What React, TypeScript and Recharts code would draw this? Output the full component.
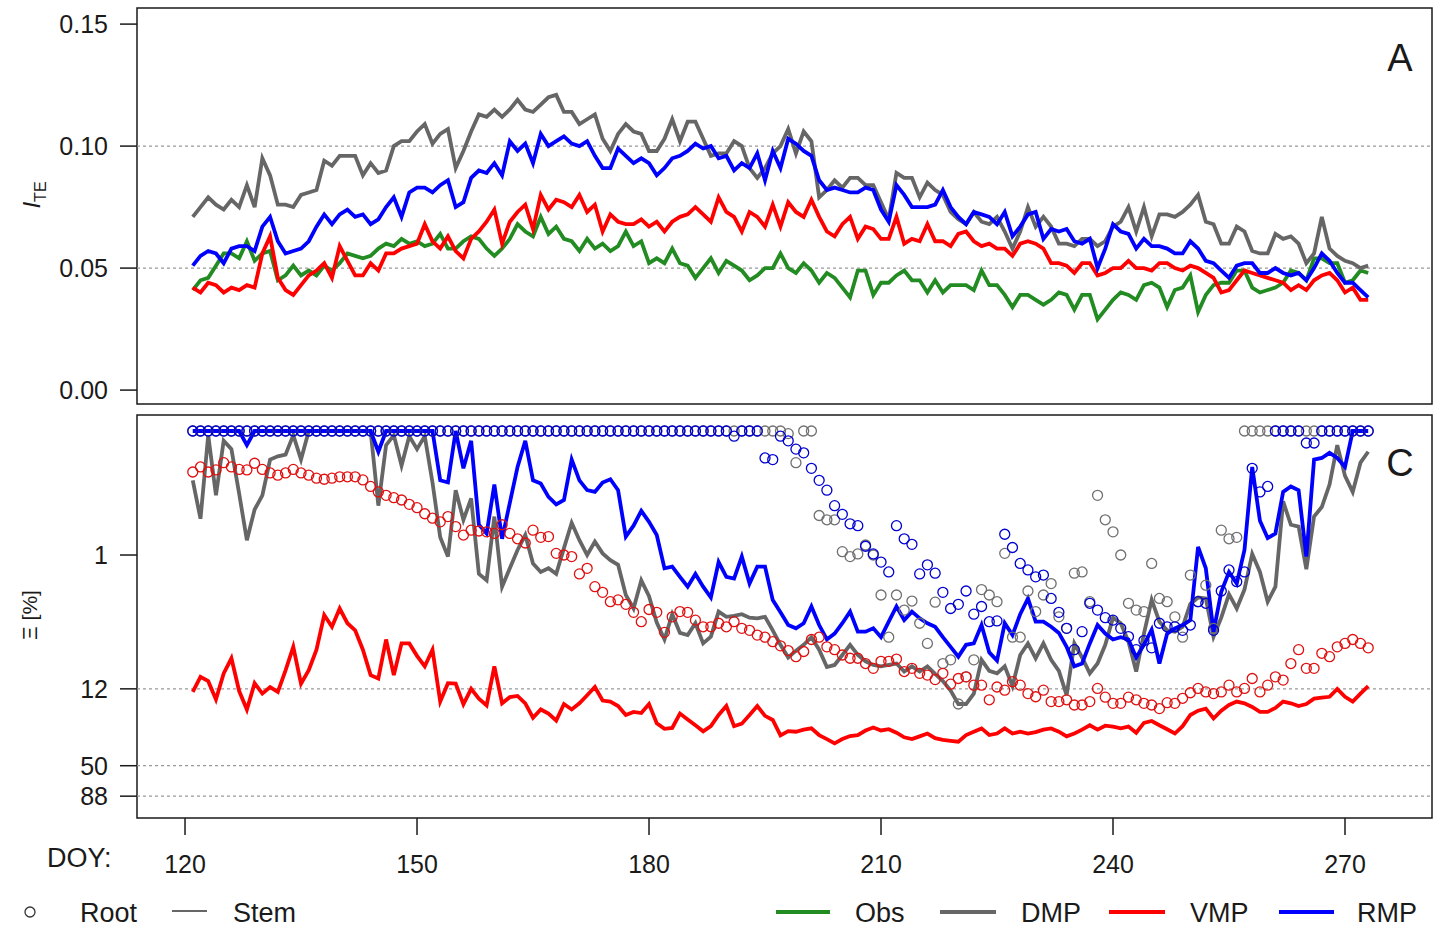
import React from "react";
import { ComposedChart, Line, XAxis, YAxis, ReferenceLine, ReferenceArea } from "recharts";

const FIRST_DOY = 121;
const X_TICKS = [120, 150, 180, 210, 240, 270];
const TOP_TICKS = [0, 0.05, 0.1, 0.15];
const BOTTOM_TICKS = [1, 12, 50, 88];
const TOP_GRID = [0.05, 0.1];
const BOTTOM_GRID = [12, 50, 88];

// panel A: I_TE
const OBS = [
  0.041, 0.045, 0.046, 0.051, 0.056, 0.056, 0.054, 0.061, 0.053, 0.056,
  0.057, 0.045, 0.047, 0.051, 0.047, 0.049, 0.047, 0.051, 0.049, 0.052,
  0.056, 0.055, 0.054, 0.055, 0.058, 0.060, 0.059, 0.062, 0.060, 0.061,
  0.059, 0.060, 0.064, 0.058, 0.058, 0.061, 0.063, 0.062, 0.058, 0.055,
  0.058, 0.062, 0.068, 0.065, 0.063, 0.071, 0.064, 0.067, 0.062, 0.061,
  0.057, 0.062, 0.058, 0.060, 0.057, 0.059, 0.065, 0.059, 0.061, 0.052,
  0.054, 0.052, 0.058, 0.052, 0.051, 0.046, 0.050, 0.054, 0.048, 0.053,
  0.051, 0.049, 0.045, 0.047, 0.050, 0.050, 0.056, 0.050, 0.048, 0.052,
  0.049, 0.044, 0.048, 0.046, 0.042, 0.038, 0.049, 0.049, 0.039, 0.044,
  0.044, 0.047, 0.049, 0.045, 0.045, 0.040, 0.045, 0.040, 0.043, 0.043,
  0.043, 0.041, 0.049, 0.043, 0.043, 0.039, 0.034, 0.039, 0.039, 0.037,
  0.035, 0.037, 0.040, 0.039, 0.033, 0.039, 0.039, 0.029, 0.033, 0.037,
  0.040, 0.039, 0.037, 0.043, 0.044, 0.042, 0.034, 0.041, 0.042, 0.047,
  0.032, 0.039, 0.043, 0.044, 0.044, 0.049, 0.049, 0.042, 0.040, 0.041,
  0.042, 0.044, 0.049, 0.048, 0.045, 0.054, 0.054, 0.052, 0.052, 0.044,
  0.045, 0.049, 0.048,
];

const DMP_TE = [
  0.071, 0.075, 0.079, 0.076, 0.074, 0.078, 0.075, 0.084, 0.075, 0.095,
  0.088, 0.076, 0.076, 0.075, 0.080, 0.081, 0.082, 0.094, 0.092, 0.096,
  0.096, 0.096, 0.088, 0.093, 0.089, 0.090, 0.100, 0.102, 0.102, 0.106,
  0.109, 0.101, 0.105, 0.107, 0.091, 0.098, 0.106, 0.113, 0.112, 0.115,
  0.112, 0.115, 0.119, 0.115, 0.114, 0.117, 0.120, 0.121, 0.114, 0.114,
  0.109, 0.111, 0.113, 0.103, 0.098, 0.105, 0.109, 0.106, 0.105, 0.098,
  0.098, 0.103, 0.111, 0.102, 0.110, 0.110, 0.103, 0.096, 0.097, 0.097,
  0.102, 0.100, 0.091, 0.087, 0.091, 0.097, 0.100, 0.107, 0.097, 0.106,
  0.102, 0.079, 0.082, 0.086, 0.083, 0.087, 0.087, 0.084, 0.084, 0.077,
  0.070, 0.089, 0.087, 0.087, 0.079, 0.085, 0.082, 0.080, 0.073, 0.070,
  0.068, 0.073, 0.069, 0.068, 0.071, 0.065, 0.058, 0.065, 0.075, 0.067,
  0.071, 0.067, 0.060, 0.060, 0.059, 0.062, 0.062, 0.059, 0.061, 0.067,
  0.069, 0.075, 0.065, 0.075, 0.063, 0.072, 0.072, 0.071, 0.073, 0.076,
  0.080, 0.069, 0.068, 0.060, 0.060, 0.067, 0.065, 0.057, 0.056, 0.056,
  0.064, 0.062, 0.063, 0.060, 0.052, 0.056, 0.071, 0.058, 0.055, 0.053,
  0.052, 0.050, 0.051,
];

const VMP_TE = [
  0.042, 0.040, 0.044, 0.043, 0.040, 0.042, 0.041, 0.043, 0.042, 0.056,
  0.063, 0.046, 0.041, 0.039, 0.043, 0.047, 0.049, 0.052, 0.046, 0.059,
  0.053, 0.047, 0.047, 0.052, 0.049, 0.056, 0.056, 0.058, 0.059, 0.060,
  0.068, 0.061, 0.058, 0.063, 0.057, 0.054, 0.062, 0.065, 0.069, 0.074,
  0.060, 0.069, 0.073, 0.076, 0.066, 0.080, 0.074, 0.078, 0.077, 0.075,
  0.080, 0.073, 0.076, 0.065, 0.072, 0.069, 0.068, 0.068, 0.070, 0.067,
  0.069, 0.065, 0.069, 0.071, 0.072, 0.075, 0.072, 0.069, 0.079, 0.073,
  0.071, 0.065, 0.073, 0.071, 0.067, 0.076, 0.067, 0.077, 0.073, 0.071,
  0.078, 0.071, 0.065, 0.063, 0.068, 0.071, 0.062, 0.067, 0.066, 0.062,
  0.062, 0.071, 0.060, 0.062, 0.061, 0.068, 0.061, 0.061, 0.059, 0.064,
  0.065, 0.061, 0.059, 0.060, 0.058, 0.058, 0.055, 0.060, 0.061, 0.060,
  0.058, 0.052, 0.052, 0.051, 0.048, 0.052, 0.052, 0.047, 0.048, 0.050,
  0.050, 0.053, 0.050, 0.050, 0.049, 0.052, 0.052, 0.050, 0.049, 0.051,
  0.050, 0.048, 0.046, 0.040, 0.041, 0.045, 0.049, 0.048, 0.047, 0.046,
  0.045, 0.044, 0.041, 0.043, 0.041, 0.045, 0.047, 0.048, 0.045, 0.040,
  0.042, 0.037, 0.037,
];

const RMP_TE = [
  0.051, 0.055, 0.057, 0.056, 0.052, 0.058, 0.059, 0.059, 0.057, 0.067,
  0.071, 0.061, 0.056, 0.057, 0.058, 0.061, 0.067, 0.072, 0.068, 0.072,
  0.074, 0.071, 0.072, 0.068, 0.070, 0.075, 0.079, 0.071, 0.081, 0.083,
  0.083, 0.081, 0.084, 0.086, 0.075, 0.077, 0.087, 0.090, 0.089, 0.093,
  0.088, 0.102, 0.098, 0.101, 0.093, 0.105, 0.100, 0.102, 0.104, 0.101,
  0.100, 0.102, 0.096, 0.091, 0.091, 0.099, 0.096, 0.093, 0.095, 0.093,
  0.088, 0.091, 0.095, 0.096, 0.098, 0.101, 0.099, 0.100, 0.095, 0.096,
  0.090, 0.093, 0.091, 0.097, 0.086, 0.098, 0.091, 0.103, 0.101, 0.098,
  0.096, 0.086, 0.082, 0.083, 0.082, 0.081, 0.081, 0.083, 0.082, 0.074,
  0.069, 0.084, 0.080, 0.075, 0.075, 0.075, 0.076, 0.082, 0.075, 0.071,
  0.068, 0.073, 0.072, 0.071, 0.068, 0.073, 0.063, 0.067, 0.072, 0.073,
  0.062, 0.066, 0.065, 0.066, 0.061, 0.060, 0.062, 0.050, 0.058, 0.068,
  0.065, 0.064, 0.058, 0.062, 0.059, 0.059, 0.058, 0.056, 0.056, 0.061,
  0.058, 0.053, 0.052, 0.049, 0.046, 0.051, 0.052, 0.052, 0.048, 0.048,
  0.050, 0.048, 0.047, 0.048, 0.045, 0.050, 0.056, 0.053, 0.048, 0.044,
  0.044, 0.041, 0.038,
];

// panel C: Xi [%], stem (lines) and root (circles)
const DMP_STEM = [
  0.25, 0.51, 0.108, 0.33, 0.12, 0.14, 0.32, 0.76, 0.43, 0.33,
  0.17, 0.16, 0.155, 0.108, 0.17, 0.1, 0.1, 0.1, 0.1, 0.1,
  0.1, 0.1, 0.1, 0.1, 0.4, 0.13, 0.108, 0.19, 0.11, 0.14,
  0.11, 0.26, 0.72, 1.03, 0.3, 0.52, 0.35, 1.42, 1.6, 0.49,
  1.8, 1.28, 0.91, 0.69, 1.17, 1.37, 1.28, 1.42, 0.88, 0.55,
  0.76, 1.0, 0.78, 0.97, 1.1, 1.2, 2.1, 2.7, 1.6, 2.15,
  3.5, 4.8, 3.0, 4.25, 4.42, 3.55, 5.16, 4.55, 2.86, 3.15,
  3.1, 3.0, 3.2, 3.24, 3.15, 4.05, 5.3, 6.7, 5.9, 5.3,
  4.6, 5.8, 8.0, 7.7, 6.4, 5.3, 6.4, 7.2, 7.7, 7.9,
  7.7, 7.5, 8.7, 7.9, 8.7, 7.9, 9.1, 10.4, 12.4, 15.9,
  15.9, 13.1, 7.0, 8.6, 9.0, 7.9, 11.4, 6.4, 5.16, 6.8,
  5.16, 7.0, 8.6, 13.5, 5.16, 6.7, 9.0, 7.5, 5.3, 3.2,
  3.55, 5.0, 8.7, 4.3, 2.3, 3.45, 4.05, 4.15, 3.79, 2.48,
  2.2, 2.24, 4.55, 3.2, 2.07, 2.7, 1.9, 0.98, 1.37, 2.38,
  1.8, 0.37, 0.57, 0.59, 1.3, 0.49, 0.41, 0.27, 0.13, 0.23,
  0.31, 0.18, 0.147,
];

const VMP_STEM = [
  12.7, 9.6, 10.4, 14.6, 9.0, 6.8, 12.5, 17.6, 10.8, 13.1,
  11.6, 12.7, 8.5, 5.5, 10.9, 8.5, 5.8, 3.05, 3.79, 2.7,
  3.55, 4.05, 5.8, 9.3, 9.9, 4.8, 9.3, 5.16, 5.16, 6.5,
  7.9, 5.8, 15.2, 10.8, 10.9, 16.0, 12.0, 14.4, 16.3, 7.9,
  15.7, 14.0, 13.7, 15.7, 20.5, 17.6, 19.0, 21.6, 15.9, 17.6,
  15.7, 13.5, 11.6, 14.9, 15.2, 16.5, 19.5, 18.4, 18.8, 15.9,
  22.7, 25.2, 24.8, 19.0, 21.2, 23.6, 26.4, 24.0, 19.5, 16.5,
  24.0, 22.9, 19.5, 16.5, 19.8, 21.4, 28.5, 26.3, 26.6, 25.6,
  25.0, 28.3, 30.5, 33.0, 30.5, 28.8, 28.3, 26.0, 24.6, 26.0,
  25.4, 27.1, 29.5, 30.5, 29.0, 27.5, 30.0, 31.0, 31.5, 32.0,
  28.3, 26.6, 25.0, 28.3, 27.5, 25.0, 27.5, 26.6, 27.5, 26.8,
  25.6, 25.0, 26.6, 29.0, 27.5, 25.6, 23.6, 25.6, 23.8, 24.2,
  25.0, 24.2, 27.1, 22.6, 21.8, 23.6, 25.4, 27.5, 24.0, 19.5,
  18.0, 17.3, 20.8, 18.0, 16.2, 15.2, 15.7, 16.8, 18.4, 18.4,
  17.1, 15.2, 15.7, 16.5, 15.9, 14.4, 14.1, 13.9, 12.0, 13.9,
  15.2, 13.1, 11.4,
];

const RMP_STEM = [
  0.1, 0.1, 0.1, 0.1, 0.1, 0.1, 0.1, 0.13, 0.1, 0.1,
  0.1, 0.1, 0.1, 0.1, 0.1, 0.1, 0.1, 0.1, 0.1, 0.1,
  0.1, 0.1, 0.1, 0.1, 0.147, 0.1, 0.1, 0.1, 0.1, 0.1,
  0.1, 0.1, 0.25, 0.26, 0.1, 0.2, 0.12, 0.57, 0.67, 0.27,
  0.74, 0.38, 0.195, 0.12, 0.25, 0.265, 0.34, 0.39, 0.36, 0.17,
  0.25, 0.3, 0.31, 0.26, 0.245, 0.3, 0.71, 0.58, 0.44, 0.54,
  0.69, 1.28, 1.24, 1.5, 1.8, 1.42, 1.8, 2.2, 1.14, 1.5,
  1.55, 1.03, 1.7, 1.24, 1.24, 2.31, 2.9, 3.67, 3.9, 3.55,
  2.6, 3.67, 4.8, 4.3, 3.55, 2.86, 4.15, 4.15, 3.9, 4.6,
  3.45, 2.6, 3.35, 2.86, 3.24, 3.55, 3.79, 4.6, 5.5, 6.6,
  5.3, 5.16, 3.67, 6.1, 7.1, 3.55, 4.42, 3.0, 2.24, 3.45,
  3.45, 3.79, 4.25, 5.5, 7.9, 7.5, 5.16, 3.67, 4.3, 4.8,
  4.6, 4.8, 6.7, 5.3, 4.0, 7.5, 4.3, 3.9, 3.67, 3.35,
  0.86, 1.28, 4.15, 1.98, 1.37, 1.7, 0.91, 0.195, 0.53, 0.73,
  0.67, 0.31, 0.28, 0.3, 1.03, 0.17, 0.165, 0.15, 0.165, 0.195,
  0.1, 0.1, 0.1,
];

const DMP_ROOT = [
  0.1, 0.1, 0.1, 0.1, 0.1, 0.1, 0.1, 0.1, 0.1, 0.1,
  0.1, 0.1, 0.1, 0.1, 0.1, 0.1, 0.1, 0.1, 0.1, 0.1,
  0.1, 0.1, 0.1, 0.1, 0.1, 0.1, 0.1, 0.1, 0.1, 0.1,
  0.1, 0.1, 0.1, 0.1, 0.1, 0.1, 0.1, 0.1, 0.1, 0.1,
  0.1, 0.1, 0.1, 0.1, 0.1, 0.1, 0.1, 0.1, 0.1, 0.1,
  0.1, 0.1, 0.1, 0.1, 0.1, 0.1, 0.1, 0.1, 0.1, 0.1,
  0.1, 0.1, 0.1, 0.1, 0.1, 0.1, 0.1, 0.1, 0.1, 0.1,
  0.1, 0.1, 0.1, 0.1, 0.1, 0.1, 0.1, 0.105, 0.18, 0.1,
  0.1, 0.48, 0.52, 0.52, 0.94, 1.03, 0.98, 0.83, 1.0, 2.1,
  4.6, 2.1, 2.78, 2.35, 3.55, 5.16, 2.4, 7.5, 7.0, 15.9,
  9.6, 7.0, 1.9, 2.1, 2.38, 0.97, 4.6, 4.6, 1.95, 2.86,
  2.1, 1.7, 3.15, 3.9, 1.4, 1.37, 2.38, 0.33, 0.52, 0.65,
  1.0, 2.45, 2.78, 2.86, 1.17, 2.24, 2.38, 3.15, 4.6, 1.45,
  2.38, 1.75, 3.9, 0.63, 0.74, 0.72, 0.1, 0.1, 0.1, 0.1,
  0.1, 0.1, 0.1, 0.1, 0.1, 0.1, 0.1, 0.1, 0.1, 0.1,
  0.1, 0.1, 0.1,
];

const VMP_ROOT = [
  0.214, 0.195, 0.214, 0.206, 0.18, 0.195, 0.204, 0.206, 0.182, 0.204,
  0.218, 0.227, 0.218, 0.204, 0.218, 0.227, 0.24, 0.245, 0.24, 0.234,
  0.234, 0.234, 0.248, 0.28, 0.31, 0.33, 0.345, 0.36, 0.39, 0.415,
  0.465, 0.505, 0.54, 0.49, 0.59, 0.69, 0.63, 0.64, 0.65, 0.67,
  0.57, 0.67, 0.74, 0.8, 0.63, 0.72, 0.71, 0.97, 1.0, 1.03,
  1.42, 1.28, 1.8, 2.0, 2.38, 2.3, 2.5, 2.9, 3.45, 2.75,
  2.9, 4.2, 3.15, 2.86, 2.9, 3.35, 3.79, 3.79, 3.55, 3.79,
  3.45, 3.9, 4.05, 4.42, 4.6, 5.0, 5.4, 5.9, 6.6, 6.0,
  4.8, 4.6, 5.5, 5.8, 6.4, 6.8, 6.8, 7.5, 8.2, 7.2,
  7.2, 6.9, 8.7, 8.2, 9.0, 9.3, 10.1, 9.0, 11.0, 9.9,
  9.6, 11.2, 11.2, 14.7, 11.6, 12.3, 10.5, 11.2, 13.1, 13.9,
  12.3, 15.2, 15.2, 14.7, 16.2, 16.2, 15.2, 11.9, 14.0, 15.7,
  15.7, 14.0, 14.7, 15.7, 16.2, 17.3, 15.5, 15.7, 14.3, 12.9,
  11.9, 12.7, 13.1, 12.7, 11.2, 12.7, 11.9, 9.9, 12.7, 11.2,
  9.6, 10.2, 7.5, 5.8, 8.2, 8.2, 6.2, 6.6, 5.5, 5.16,
  4.8, 5.16, 5.6,
];

const RMP_ROOT = [
  0.1, 0.1, 0.1, 0.1, 0.1, 0.1, 0.1, 0.1, 0.1, 0.1,
  0.1, 0.1, 0.1, 0.1, 0.1, 0.1, 0.1, 0.1, 0.1, 0.1,
  0.1, 0.1, 0.1, 0.1, 0.1, 0.1, 0.1, 0.1, 0.1, 0.1,
  0.1, 0.1, 0.1, 0.1, 0.1, 0.1, 0.1, 0.1, 0.1, 0.1,
  0.1, 0.1, 0.1, 0.1, 0.1, 0.1, 0.1, 0.1, 0.1, 0.1,
  0.1, 0.1, 0.1, 0.1, 0.1, 0.1, 0.1, 0.1, 0.1, 0.1,
  0.1, 0.1, 0.1, 0.1, 0.1, 0.1, 0.1, 0.1, 0.1, 0.1,
  0.11, 0.1, 0.1, 0.1, 0.165, 0.17, 0.11, 0.12, 0.14, 0.15,
  0.2, 0.25, 0.3, 0.4, 0.47, 0.56, 0.58, 0.85, 0.98, 1.14,
  1.37, 0.58, 0.74, 0.82, 1.42, 1.2, 1.4, 2.0, 2.7, 2.5,
  1.95, 3.0, 2.6, 3.45, 3.4, 0.68, 0.87, 1.17, 1.32, 1.5,
  1.45, 2.24, 2.9, 3.9, 5.8, 4.15, 2.45, 2.78, 3.2, 3.35,
  3.9, 4.55, 5.8, 4.9, 5.6, 3.55, 3.79, 3.79, 4.05, 3.67,
  2.38, 2.45, 4.05, 1.95, 1.32, 1.64, 1.37, 0.2, 0.31, 0.28,
  0.1, 0.1, 0.1, 0.1, 0.125, 0.125, 0.1, 0.1, 0.1, 0.1,
  0.1, 0.1, 0.1,
];

const DOY = OBS.map((_, i) => FIRST_DOY + i);

const rows = DOY.map((doy, i) => ({
  doy,
  obs: OBS[i],
  dmpTe: DMP_TE[i],
  vmpTe: VMP_TE[i],
  rmpTe: RMP_TE[i],
  dmpStem: DMP_STEM[i],
  vmpStem: VMP_STEM[i],
  rmpStem: RMP_STEM[i],
  dmpRoot: DMP_ROOT[i],
  vmpRoot: VMP_ROOT[i],
  rmpRoot: RMP_ROOT[i],
}));

const X_DOMAIN: [number, number] = [113.79, 281.25];
const TOP_DOMAIN: [number, number] = [-0.0057, 0.1566];
const BOTTOM_DOMAIN: [number, number] = [0.0743, 132];

const GREEN = "#228b22";
const GRAY = "#666666";
const RED = "#ff0000";
const BLUE = "#0000ff";
const FONT = '"Liberation Sans", Arial, sans-serif';
const INK = "#1a1a1a";
const LW = 3.8;

const tickStyle = { fontSize: 25, fill: INK, fontFamily: FONT };
const tickLine = { stroke: INK, strokeWidth: 1.5 };

const ring = (color: string) => (p: any) => (
  <circle
    key={`${color}-${p.index}`}
    cx={p.cx}
    cy={p.cy}
    r={5}
    fill="none"
    stroke={color}
    strokeWidth={1.3}
  />
);

export default function App() {
  return (
    <div style={{ position: "absolute", left: 0, top: 0, width: 1439, height: 928, background: "#fff" }}>
      <div style={{ position: "absolute", left: 0, top: 0 }}>
        <ComposedChart width={1439} height={406} data={rows} margin={{ top: 8, right: 7, bottom: 2, left: 0 }}>
          <XAxis type="number" dataKey="doy" domain={X_DOMAIN} allowDataOverflow hide />
          <YAxis
            type="number"
            domain={TOP_DOMAIN}
            allowDataOverflow
            ticks={TOP_TICKS}
            interval={0}
            tickFormatter={(v: number) => v.toFixed(2)}
            width={137}
            tickSize={17}
            tickMargin={12}
            axisLine={false}
            tickLine={tickLine}
            tick={tickStyle}
          />
          {TOP_GRID.map((g) => (
            <ReferenceLine key={g} y={g} stroke="#999" strokeDasharray="3 3" strokeWidth={1.2} />
          ))}
          <ReferenceArea
            x1={X_DOMAIN[0]}
            x2={X_DOMAIN[1]}
            y1={TOP_DOMAIN[0]}
            y2={TOP_DOMAIN[1]}
            ifOverflow="visible"
            fill="none"
            stroke={INK}
            strokeWidth={1.5}
          />
          <Line dataKey="obs" stroke={GREEN} strokeWidth={LW} dot={false} isAnimationActive={false} />
          <Line dataKey="dmpTe" stroke={GRAY} strokeWidth={LW} dot={false} isAnimationActive={false} />
          <Line dataKey="vmpTe" stroke={RED} strokeWidth={LW} dot={false} isAnimationActive={false} />
          <Line dataKey="rmpTe" stroke={BLUE} strokeWidth={LW} dot={false} isAnimationActive={false} />
        </ComposedChart>
      </div>

      <div style={{ position: "absolute", left: 0, top: 407 }}>
        <ComposedChart width={1439} height={471} data={rows} margin={{ top: 8, right: 7, bottom: 0, left: 0 }}>
          <XAxis
            type="number"
            dataKey="doy"
            domain={X_DOMAIN}
            allowDataOverflow
            ticks={X_TICKS}
            interval={0}
            height={60}
            tickSize={17}
            tickMargin={20}
            axisLine={false}
            tickLine={tickLine}
            tick={tickStyle}
          />
          <YAxis
            type="number"
            scale="log"
            domain={BOTTOM_DOMAIN}
            allowDataOverflow
            reversed
            ticks={BOTTOM_TICKS}
            interval={0}
            tickFormatter={(v: number) => String(v)}
            width={137}
            tickSize={17}
            tickMargin={12}
            axisLine={false}
            tickLine={tickLine}
            tick={tickStyle}
          />
          {BOTTOM_GRID.map((g) => (
            <ReferenceLine key={g} y={g} stroke="#999" strokeDasharray="3 3" strokeWidth={1.2} />
          ))}
          <ReferenceArea
            x1={X_DOMAIN[0]}
            x2={X_DOMAIN[1]}
            y1={BOTTOM_DOMAIN[0]}
            y2={BOTTOM_DOMAIN[1]}
            ifOverflow="visible"
            fill="none"
            stroke={INK}
            strokeWidth={1.5}
          />
          <Line dataKey="dmpStem" stroke={GRAY} strokeWidth={LW} dot={false} isAnimationActive={false} />
          <Line dataKey="vmpStem" stroke={RED} strokeWidth={LW} dot={false} isAnimationActive={false} />
          <Line dataKey="rmpStem" stroke={BLUE} strokeWidth={LW} dot={false} isAnimationActive={false} />
          <Line dataKey="dmpRoot" stroke="none" dot={ring("#707070")} activeDot={false} isAnimationActive={false} />
          <Line dataKey="vmpRoot" stroke="none" dot={ring("#e01010")} activeDot={false} isAnimationActive={false} />
          <Line dataKey="rmpRoot" stroke="none" dot={ring("#0000d0")} activeDot={false} isAnimationActive={false} />
        </ComposedChart>
      </div>

      <svg
        width={1439}
        height={928}
        style={{ position: "absolute", left: 0, top: 0, pointerEvents: "none" }}
        fontFamily={FONT}
      >
        <text x={1400} y={71} fontSize={38} textAnchor="middle" fill={INK}>A</text>
        <text x={1400} y={476} fontSize={38} textAnchor="middle" fill={INK}>C</text>

        <text transform="translate(40,195) rotate(-90)" fontSize={24} textAnchor="middle" fill={INK}>
          <tspan fontStyle="italic">I</tspan>
          <tspan fontSize={16} dy={6}>TE</tspan>
        </text>
        <text transform="translate(37,615) rotate(-90)" fontSize={21} textAnchor="middle" fill={INK}>
          Ξ [%]
        </text>

        <text x={47} y={867} fontSize={27} fill={INK}>DOY:</text>

        <circle cx={30} cy={912} r={5} fill="none" stroke="#333" strokeWidth={1.3} />
        <text x={80} y={922} fontSize={27} fill={INK}>Root</text>
        <line x1={172} x2={207} y1={911} y2={911} stroke="#333" strokeWidth={1.5} />
        <text x={233} y={922} fontSize={27} fill={INK}>Stem</text>

        <line x1={776} x2={830} y1={912} y2={912} stroke={GREEN} strokeWidth={4} />
        <text x={855} y={922} fontSize={27} fill={INK}>Obs</text>
        <line x1={940} x2={996} y1={912} y2={912} stroke={GRAY} strokeWidth={4} />
        <text x={1021} y={922} fontSize={27} fill={INK}>DMP</text>
        <line x1={1109} x2={1165} y1={912} y2={912} stroke={RED} strokeWidth={4} />
        <text x={1190} y={922} fontSize={27} fill={INK}>VMP</text>
        <line x1={1279} x2={1334} y1={912} y2={912} stroke={BLUE} strokeWidth={4} />
        <text x={1357} y={922} fontSize={27} fill={INK}>RMP</text>
      </svg>
    </div>
  );
}
